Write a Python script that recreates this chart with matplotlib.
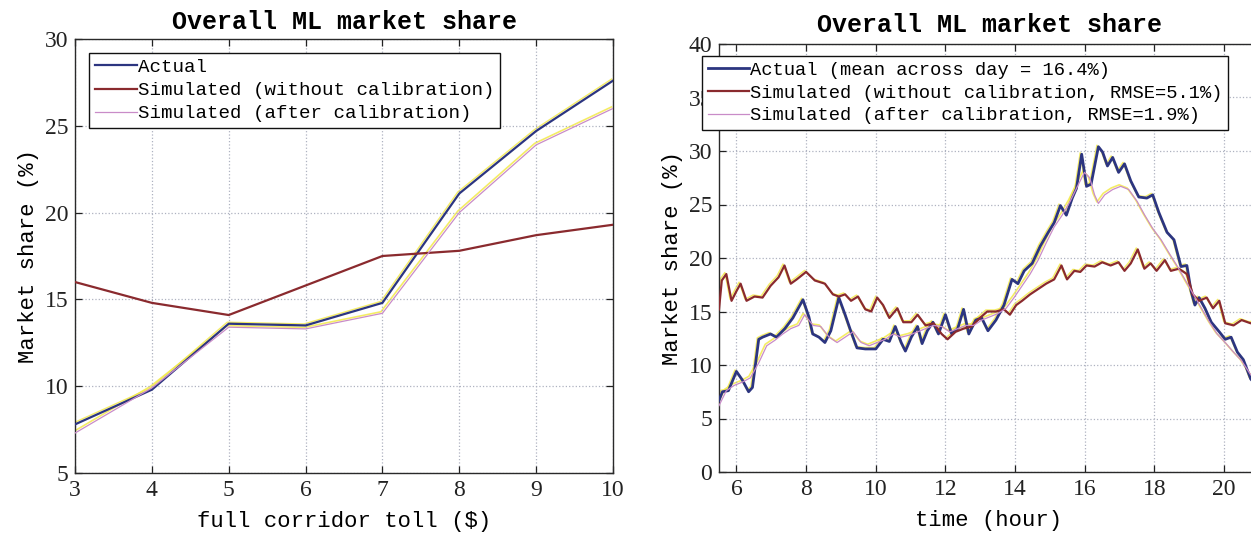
import matplotlib.pyplot as plt
from matplotlib import transforms

plt.rcParams['font.family'] = ['Liberation Mono', 'DejaVu Sans Mono']

# toll sweep
toll = [3, 4, 5, 6, 7, 8, 9, 10]
toll_actual = [7.8, 9.8, 13.6, 13.5, 14.8, 21.1, 24.7, 27.6]
toll_nocal = [16.0, 14.8, 14.1, 15.8, 17.5, 17.8, 18.7, 19.3]
toll_cal = [7.3, 9.9, 13.4, 13.3, 14.2, 20.0, 23.9, 26.0]

# time of day
t_actual = [5.5, 5.6, 5.77, 6.0, 6.17, 6.35, 6.46, 6.64, 6.75, 6.98, 7.15, 7.39, 7.62,
            7.91, 8.08, 8.19, 8.37, 8.54, 8.71, 8.94, 9.12, 9.29, 9.46, 9.7, 10.0,
            10.21, 10.39, 10.56, 10.73, 10.85, 11.02, 11.2, 11.33, 11.48, 11.64, 11.8,
            12.0, 12.18, 12.35, 12.52, 12.67, 12.87, 13.04, 13.22, 13.45, 13.68, 13.91,
            14.08, 14.26, 14.49, 14.72, 14.95, 15.12, 15.3, 15.47, 15.64, 15.76, 15.91,
            16.05, 16.18, 16.39, 16.51, 16.65, 16.8, 16.97, 17.14, 17.32, 17.55, 17.78,
            17.95, 18.12, 18.36, 18.56, 18.76, 18.93, 19.05, 19.16, 19.28, 19.45, 19.63,
            19.86, 20.03, 20.2, 20.38, 20.55, 20.76, 20.9]
v_actual = [6.7, 7.5, 7.6, 9.4, 8.6, 7.5, 7.9, 12.4, 12.6, 12.9, 12.6, 13.4, 14.4,
            16.1, 14.5, 12.9, 12.6, 12.1, 13.2, 16.3, 14.7, 13.1, 11.6, 11.5, 11.5,
            12.4, 12.2, 13.6, 12.1, 11.3, 12.6, 13.6, 12.0, 13.2, 14.0, 12.9,
            14.7, 12.9, 13.4, 15.2, 12.9, 14.2, 14.4, 13.2, 14.2, 15.6, 18.0,
            17.6, 18.8, 19.5, 21.1, 22.4, 23.3, 24.9, 24.0, 25.6, 26.5, 29.7,
            26.7, 26.9, 30.4, 29.9, 28.6, 29.4, 28.0, 28.8, 27.2, 25.7, 25.6,
            25.9, 24.3, 22.4, 21.7, 19.2, 19.3, 16.9, 15.6, 16.3, 15.3, 14.0,
            13.1, 12.4, 12.6, 11.2, 10.5, 8.7, 8.2]

t_nocal = [5.5, 5.58, 5.71, 5.86, 6.0, 6.12, 6.29, 6.52, 6.75, 6.98, 7.21, 7.38, 7.56,
           7.73, 8.0, 8.25, 8.54, 8.77, 8.94, 9.12, 9.29, 9.49, 9.7, 9.87, 10.04,
           10.21, 10.39, 10.62, 10.79, 11.02, 11.2, 11.43, 11.66, 11.89, 12.06, 12.29,
           12.52, 12.75, 12.99, 13.2, 13.45, 13.68, 13.85, 14.03, 14.2, 14.43, 14.66,
           14.89, 15.12, 15.33, 15.49, 15.7, 15.87, 16.05, 16.28, 16.5, 16.74, 16.97,
           17.14, 17.32, 17.52, 17.71, 17.89, 18.06, 18.3, 18.47, 18.7, 18.93, 19.1,
           19.28, 19.5, 19.68, 19.86, 20.03, 20.27, 20.5, 20.76, 20.9]
v_nocal = [15.2, 17.9, 18.5, 16.0, 16.9, 17.6, 16.0, 16.4, 16.3, 17.4, 18.2, 19.3, 17.6,
           18.0, 18.7, 17.9, 17.6, 16.6, 16.4, 16.6, 16.0, 16.4, 15.2, 15.0, 16.3,
           15.6, 14.4, 15.3, 14.0, 14.0, 14.7, 13.7, 13.9, 12.9, 12.4, 13.1,
           13.4, 13.6, 14.4, 15.0, 15.0, 15.2, 14.7, 15.6, 16.0, 16.6, 17.1,
           17.6, 18.0, 19.3, 18.0, 18.8, 18.7, 19.3, 19.2, 19.6, 19.3, 19.6,
           18.8, 19.5, 20.8, 19.0, 19.5, 18.8, 19.8, 18.8, 19.0, 18.5, 16.6,
           16.0, 16.3, 15.3, 16.0, 13.9, 13.7, 14.2, 13.9, 14.0]

t_cal = [5.5, 5.71, 5.94, 6.17, 6.4, 6.64, 6.87, 7.1, 7.33, 7.56, 7.79, 7.96, 8.2,
         8.42, 8.66, 8.89, 9.12, 9.35, 9.58, 9.81, 10.04, 10.27, 10.5, 10.73, 10.97,
         11.2, 11.43, 11.66, 11.89, 12.12, 12.35, 12.58, 12.81, 13.04, 13.27, 13.5,
         13.74, 13.97, 14.2, 14.43, 14.66, 14.89, 15.12, 15.35, 15.58, 15.82, 15.99,
         16.14, 16.28, 16.39, 16.57, 16.8, 17.03, 17.26, 17.5, 17.72, 17.96, 18.19,
         18.43, 18.66, 18.89, 19.12, 19.35, 19.58, 19.8, 20.03, 20.27, 20.5, 20.76, 20.9]
v_cal = [6.2, 7.6, 8.1, 8.4, 8.8, 10.2, 11.8, 12.3, 12.9, 13.4, 13.7, 14.7, 13.7,
         13.6, 12.6, 12.1, 12.6, 13.1, 12.1, 11.8, 12.1, 12.4, 12.9, 12.6, 12.8,
         13.1, 13.4, 13.7, 13.6, 13.1, 13.4, 13.7, 13.7, 14.2, 14.5, 14.8,
         15.3, 16.3, 17.4, 18.5, 19.8, 21.4, 22.9, 24.0, 25.3, 26.9, 28.0,
         27.5, 25.9, 25.1, 25.9, 26.4, 26.7, 26.4, 25.3, 24.0, 22.7, 21.7,
         20.4, 19.2, 17.9, 16.6, 15.3, 14.0, 12.9, 12.1, 11.2, 10.4, 9.1, 8.7]

c_actual = '#2c3580'
c_nocal = '#8a2a2e'
c_cal = '#c98cc8'
c_ghost = '#f3e94a'

tick_font = dict(family='Liberation Serif', size=17)
W, H = 1251, 540

fig = plt.figure(figsize=(W / 100, H / 100), dpi=100)
ax1 = fig.add_axes([75 / W, 1 - 473 / H, (613 - 75) / W, (473 - 39) / H])
ax2 = fig.add_axes([719 / W, 1 - 472 / H, (1259 - 719) / W, (472 - 44) / H])


def ghost(ax, x, y, lw):
    # slight yellow misregistration halo
    tr = transforms.offset_copy(ax.transData, fig=fig, x=-1.5, y=1.5, units='dots')
    ax.plot(x, y, color=c_ghost, lw=lw, alpha=0.85, transform=tr, zorder=1)


def style(ax):
    ax.grid(True, linestyle=':', color='#aeb2c0', linewidth=0.9)
    ax.tick_params(direction='in', top=True, right=True, length=5, width=0.9,
                   colors='#222222', pad=5)
    for lab in ax.get_xticklabels() + ax.get_yticklabels():
        lab.set_fontfamily(tick_font['family'])
        lab.set_fontsize(tick_font['size'])
    for s in ax.spines.values():
        s.set_color('#2a2a2a')
        s.set_linewidth(1.0)


# left: market share vs toll
ghost(ax1, toll, toll_cal, 1.2)
ghost(ax1, toll, toll_actual, 1.0)
l1, = ax1.plot(toll, toll_actual, color=c_actual, lw=1.6, zorder=3)
l2, = ax1.plot(toll, toll_nocal, color=c_nocal, lw=1.6, zorder=3)
l3, = ax1.plot(toll, toll_cal, color=c_cal, lw=0.9, zorder=3)
ax1.set_xlim(3, 10)
ax1.set_ylim(5, 30)
ax1.set_xticks(toll)
ax1.set_yticks([5, 10, 15, 20, 25, 30])
style(ax1)
ax1.set_title('Overall ML market share', fontsize=18, fontweight='bold', pad=7)
ax1.set_xlabel('full corridor toll ($)', fontsize=16, labelpad=7)
ax1.set_ylabel('Market share (%)', fontsize=16, labelpad=4)
leg1 = ax1.legend([l1, l2, l3],
                  ['Actual', 'Simulated (without calibration)', 'Simulated (after calibration)'],
                  loc='upper left', bbox_to_anchor=(89 / W, 1 - 53 / H),
                  bbox_transform=fig.transFigure, fontsize=13.8, frameon=True,
                  fancybox=False, edgecolor='#111111', framealpha=1,
                  handlelength=2.2, handletextpad=0.05, labelspacing=0.3,
                  borderpad=0.3, borderaxespad=0)
leg1.get_frame().set_linewidth(1.0)

# right: market share over the day
ghost(ax2, t_cal, v_cal, 1.2)
ghost(ax2, t_nocal, v_nocal, 1.0)
ghost(ax2, t_actual, v_actual, 1.0)
r1, = ax2.plot(t_actual, v_actual, color=c_actual, lw=2.0, zorder=3)
r2, = ax2.plot(t_nocal, v_nocal, color=c_nocal, lw=1.6, zorder=3)
r3, = ax2.plot(t_cal, v_cal, color=c_cal, lw=0.9, zorder=3)
ax2.set_xlim(5.5, 21)
ax2.set_ylim(0, 40)
ax2.set_xticks([6, 8, 10, 12, 14, 16, 18, 20])
ax2.set_yticks([0, 5, 10, 15, 20, 25, 30, 35, 40])
style(ax2)
ax2.set_title('Overall ML market share', fontsize=18, fontweight='bold', pad=9)
ax2.set_xlabel('time (hour)', fontsize=16, labelpad=7)
ax2.set_ylabel('Market share (%)', fontsize=16, labelpad=4)
leg2 = ax2.legend([r1, r2, r3],
                  ['Actual (mean across day = 16.4%)',
                   'Simulated (without calibration, RMSE=5.1%)',
                   'Simulated (after calibration, RMSE=1.9%)'],
                  loc='upper left', bbox_to_anchor=(702 / W, 1 - 56 / H),
                  bbox_transform=fig.transFigure, fontsize=13.5, frameon=True,
                  fancybox=False, edgecolor='#111111', framealpha=1,
                  handlelength=2.2, handletextpad=0.05, labelspacing=0.3,
                  borderpad=0.3, borderaxespad=0)
leg2.get_frame().set_linewidth(1.0)

fig.savefig('out.png', dpi=100)
